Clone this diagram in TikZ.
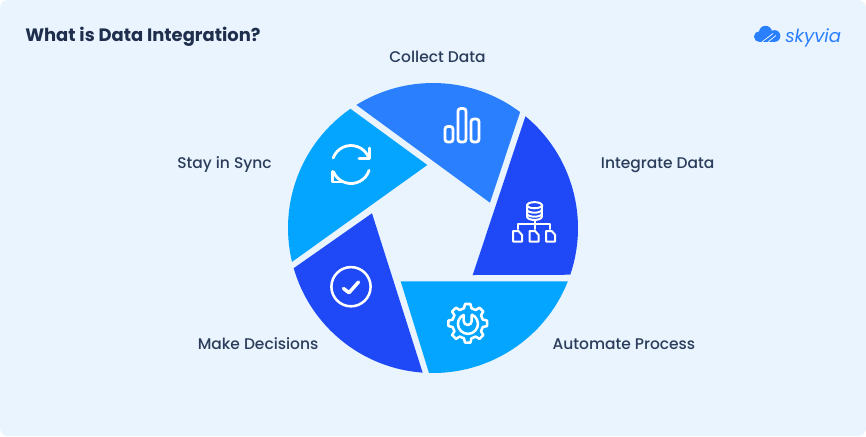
\documentclass[tikz,border=0pt]{standalone}
\usepackage{fontspec}
\usetikzlibrary{calc}
\setmainfont{Poppins Medium}[BoldFont=Poppins Bold,ItalicFont=Poppins Italic]
\definecolor{bgc}{HTML}{E9F4FE}
\definecolor{segA}{HTML}{2A7FFF}
\definecolor{segB}{HTML}{1F48F6}
\definecolor{segC}{HTML}{03A5FF}
\definecolor{inkc}{HTML}{2B3D5B}
\definecolor{titlec}{HTML}{1E2E4C}
\tikzset{
  lab/.style={text=inkc,font=\fontsize{11.6pt}{14pt}\selectfont,inner sep=0pt,anchor=base west},
  ico/.style={draw=white,line width=2.1pt,line cap=round,line join=round},
  icothin/.style={draw=white,line width=1.5pt,line cap=round,line join=round},
}
\begin{document}
\begin{tikzpicture}[x=0.75pt,y=0.75pt,yscale=-1]
\useasboundingbox (0,0) rectangle (866,436);
\fill[white] (0,0) rectangle (866,436);
\fill[bgc,rounded corners=6pt] (0,0) rectangle (866,436);
\coordinate (c) at (433,228);
% segments
\fill[segA] (490,202.7) -- ($(c)+(238.1:145)$) arc[start angle=238.1,end angle=306.9,radius=108.75pt] -- cycle;
\fill[segB] (472.7,275) -- ($(c)+(309.6:145)$) arc[start angle=309.6,end angle=378.8,radius=108.75pt] -- cycle;
\fill[segC] (400.7,281.3) -- ($(c)+(21.6:145)$) arc[start angle=21.6,end angle=91.6,radius=108.75pt] -- cycle;
\fill[segB] (372,213.3) -- ($(c)+(94.1:145)$) arc[start angle=94.1,end angle=163.9,radius=108.75pt] -- cycle;
\fill[segC] (427.3,165) -- ($(c)+(166.5:145)$) arc[start angle=166.5,end angle=235.3,radius=108.75pt] -- cycle;
% labels
\node[text=titlec,font=\fontsize{13.45pt}{15pt}\selectfont\bfseries,inner sep=0pt,anchor=base west] (title) at (25,41) {What is Data Integration?};
\node[lab] (l1) at (389,62) {Collect Data};
\node[lab] (l2) at (600.7,168) {Integrate Data};
\node[lab] (l3) at (552.3,349) {Automate Process};
\node[lab] (l4) at (197.5,349) {Make Decisions};
\node[lab] (l5) at (177,168) {Stay in Sync};
% bars icon
\draw[ico,rounded corners=2pt] (445,126.5) rectangle (453,142);
\draw[ico,rounded corners=2pt] (458,108.5) rectangle (466,142);
\draw[ico,rounded corners=2pt] (471,119) rectangle (479,142);
% sync icon
\coordinate (s) at (351,164.5);
\draw[ico] ($(s)+(200:19)$) arc[start angle=200,end angle=338,radius=14.25pt];
\draw[ico] (369.5,148) -- (369.5,158.3) -- (359,158.3);
\draw[ico] ($(s)+(18:19)$) arc[start angle=18,end angle=158,radius=14.25pt];
\draw[ico] (332.8,171.5) -- (332.8,182) -- (343.5,182);
% check icon
\draw[draw=white,line width=1.9pt] (351,286.7) circle[radius=14.7pt];
\draw[draw=white,line width=2.6pt,line cap=round,line join=round] (343.5,288.5) -- (349,292.7) -- (358.5,282);
% gear icon
\coordinate (g) at (467.7,323.3);
\draw[draw=white,line width=1.9pt,line join=round]
  ($(g)+(-14:15.5)$)
  \foreach \k in {0,1,...,7} {
    -- ($(g)+({\k*45-14}:15.5)$) -- ($(g)+({\k*45-8}:19.5)$) -- ($(g)+({\k*45+8}:19.5)$) -- ($(g)+({\k*45+14}:15.5)$)
    arc[start angle={\k*45+14},end angle={\k*45+31},radius=11.6pt]
  } -- cycle;
\draw[ico,line width=1.9pt,line cap=butt] (463.7,314.8) arc[start angle=245,end angle=-65,radius=7.5pt] -- (471.7,314.8);
\draw[ico,line width=1.9pt] (463.7,314.8) -- (463.7,321) arc[start angle=180,end angle=0,radius=3pt] -- (471.7,314.8);
% database icon
\draw[icothin] (534.5,205.2) ellipse[x radius=5.6pt,y radius=2.3pt];
\draw[icothin] (527,205.2) -- (527,216.5) arc[start angle=180,end angle=0,x radius=5.6pt,y radius=2.6pt] -- (542,205.2);
\draw[icothin] (527,209.5) arc[start angle=180,end angle=0,x radius=5.6pt,y radius=2.4pt];
\draw[icothin] (527,213.5) arc[start angle=180,end angle=0,x radius=5.6pt,y radius=2.4pt];
\draw[icothin] (534.5,220) -- (534.5,229);
\draw[icothin] (518.3,229) -- (518.3,223.5) -- (550,223.5) -- (550,229);
\foreach \fx in {513,529.6,546.2} {
  \draw[icothin] (\fx,231) -- (\fx+5.5,231) -- (\fx+9,235) -- (\fx+9,241.5) -- (\fx,241.5) -- cycle;
}
% logo
\fill[segA] (759.3,36.6) circle[radius=4pt];
\fill[segA] (765.5,32.3) circle[radius=4.9pt];
\fill[segA] (774.5,36) circle[radius=4.4pt];
\fill[segA] (759,36) rectangle (775,41.8);
\draw[white,line width=0.5pt] (762,41.9) -- (773,33.5);
\draw[white,line width=0.5pt] (768,41.9) -- (776,35.5);
\node[text=segA,font=\fontsize{13.6pt}{16pt}\selectfont\itshape,inner sep=0pt,anchor=base west] (logo) at (785,42) {skyvia};
\end{tikzpicture}
\end{document}
